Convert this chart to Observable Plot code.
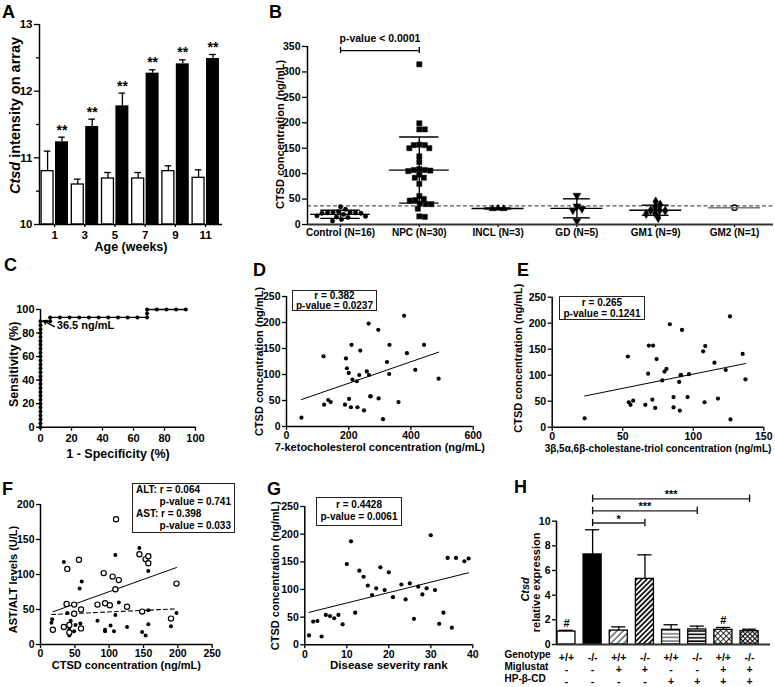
<!DOCTYPE html>
<html><head><meta charset="utf-8">
<script src="https://cdn.jsdelivr.net/npm/d3@7"></script>
<script src="https://cdn.jsdelivr.net/npm/@observablehq/plot@0.6"></script>
<style>
body{margin:0;background:#fff;}
#fig{position:relative;width:775px;height:687px;background:#fff;font-family:"Liberation Sans",Arial,Helvetica,sans-serif;font-weight:bold;color:#000;overflow:hidden}
.letter{position:absolute;font-size:18px;line-height:18px;font-weight:bold}
.stat{position:absolute;border:1.2px solid #222;box-sizing:border-box;font-size:10px;display:flex;flex-direction:column;justify-content:center;align-items:center;background:#fff;white-space:nowrap}
.stat div{width:100%}
</style></head><body><div id="fig"></div><script>
// ---------- DATA ----------
// A
const weeks = [1, 3, 5, 7, 9, 11];
const aWT = [10.8, 10.6, 10.69, 10.69, 10.8, 10.7];
const aWTerr = [0.3, 0.08, 0.09, 0.09, 0.08, 0.12];
const aKO = [11.24, 11.47, 11.78, 12.27, 12.41, 12.49];
const aKOerr = [0.07, 0.11, 0.19, 0.05, 0.06, 0.06];
// B
const bGroups = ["Control (N=16)", "NPC (N=30)", "INCL (N=3)", "GD (N=5)", "GM1 (N=9)", "GM2 (N=1)"];
const bControl = [35, 30, 25, 24, 24, 23, 23, 22, 22, 20, 17, 16, 15, 14, 10, 7];
const bNPC = [315, 199, 187, 187, 157, 156, 156, 150, 150, 134, 123, 109, 107, 107, 106, 105, 98, 92, 92, 80, 56, 50, 48, 47, 41, 40, 40, 31, 16, 15];
const bINCL = [31, 32, 31];
const bGD = [57, 36, 31, 28, 7];
const bGM1 = [45, 39, 34, 28, 28, 27, 22, 21, 13];
const bGM2 = [33];
const bMean = [20, 107, 31.5, 31.8, 28, 33];
const bSD = [8, 65, 1, 18.7, 10, 0];
const bCutoff = 36.5;
const bPText = "p-value < 0.0001";
// C
const rocFPR = [0,0,0,0,0,0,0,0,0,0,0,0,0,0,0,0,0,0,0,0,0,0,0,0,0,0,0,0,
  6.25, 6.25, 12.5, 18.75, 25, 31.25, 37.5, 43.75, 50, 56.25, 62.5, 68.75, 68.75, 68.75, 75, 81.25, 87.5, 93.75];
const rocTPR = [0,3.3,6.7,10,13.3,16.7,20,23.3,26.7,30,33.3,36.7,40,43.3,46.7,50,53.3,56.7,60,63.3,66.7,70,73.3,76.7,80,83.3,86.7,90,
  90, 93.3, 93.3, 93.3, 93.3, 93.3, 93.3, 93.3, 93.3, 93.3, 93.3, 93.3, 96.7, 100, 100, 100, 100, 100];
const rocCutText = "36.5 ng/mL";
// D
const dKeto = [48,119,121,134,142,188,191,200,201,209,207,212,194,226,234,237,228,249,258,264,265,269,271,295,296,310,323,331,330,360,378,387,414,442,489];
const dCTSD = [17,135,42,51,47,42,131,103,53,157,37,90,112,87,99,146,37,31,106,198,99,58,58,186,54,14,124,157,101,47,213,141,109,157,92];
const dStats = ["r = 0.382", "p-value = 0.0237"];
// E
const eTriol = [23,53.6,54.3,55.5,57.4,66,68,68.5,71.5,71,73,74,78,79.6,81,83.4,86,86,90,91,91.4,90.5,92,96,97,107,108,108.5,115,117.5,123,126,126.4,135,137];
const eCTSD = [17,136,48,43,51,43,103,157,157,53,37,131,90,107,112,198,38,58,87,100,100,32,187,58,102,146,48,156,124,55,110,213,15,141,92];
const eStats = ["r = 0.265", "p-value = 0.1241"];
// F
const fASTx = [18,34,39,38,56,49,49,59,59,42,42,83,92,94,101,105,109,110,114,126,144,148,153,157,157,190,198];
const fASTy = [21,25,108,58,121,57,44,50,23,28,17,57,102,59,56,97,79,179,92,54,129,47,122,126,116,37,87];
const fALTx = [17,16,34,39,42,44,42,49,51,57,60,58,83,94,94,102,107,109,109,114,126,144,148,153,157,157,157,190,198];
const fALTy = [36,31,118,45,21,34,13,19,28,80,90,30,34,19,21,27,19,128,42,60,25,138,18,13,105,49,29,26,45];
const fStats = ["ALT: r = 0.064", "p-value = 0.741", "AST: r = 0.398", "p-value = 0.033"];
// G
const gRank = [1,2,3,4,5,6,7,8,9,10,11,12,13,14,15,16,17,18,19,20,21,23,24,25,26,27,28,29,30,31,32,33,34,35,36,38,39];
const gCTSD = [17,42,43,15,54,52,48,54,37,146,187,58,134,123,107,90,102,140,99,131,86,109,82,111,47,105,91,102,198,99,38,58,157,31,157,151,156];
const gStats = ["r = 0.4428", "p-value = 0.0061"];
// H
const hGenotype = ["+/+", "-/-", "+/+", "-/-", "+/+", "-/-", "+/+", "-/-"];
const hMiglustat = ["-", "-", "+", "+", "-", "-", "+", "+"];
const hHPBCD = ["-", "-", "-", "-", "+", "+", "+", "+"];
const hMean = [1.05, 7.3, 1.13, 5.32, 1.19, 1.22, 1.19, 1.08];
const hErr = [0.1, 2.0, 0.3, 1.95, 0.41, 0.27, 0.19, 0.16];
const hSig = [{a: 1, b: 3, label: "*"}, {a: 1, b: 5, label: "***"}, {a: 1, b: 7, label: "***"}];
const hHash = [0, 6];
const hRowNames = ["Genotype", "Miglustat", "HP-β-CD"];

// ---------- HELPERS ----------
const FONT = '"Liberation Sans", Arial, Helvetica, sans-serif';
const fig = document.getElementById("fig");
const fmtInt = d3.format("d");
function mk(opts, fs) {
  return Plot.plot({...opts, style: {fontFamily: FONT, fontWeight: "bold", fontSize: fs + "px", color: "#000", background: "transparent", overflow: "visible"}});
}
function put(el, left, top) {
  el.style.position = "absolute"; el.style.left = left + "px"; el.style.top = top + "px";
  fig.appendChild(el);
}
function letter(t, left, top) {
  const d = document.createElement("div"); d.className = "letter"; d.textContent = t;
  d.style.left = left + "px"; d.style.top = top + "px"; fig.appendChild(d);
}
function statBox(lines, left, top, w, h, lh, aligns) {
  const d = document.createElement("div"); d.className = "stat";
  Object.assign(d.style, {left: left + "px", top: top + "px", width: w + "px", height: h + "px", lineHeight: lh + "px", padding: "0 3px"});
  lines.forEach((t, i) => { const l = document.createElement("div"); l.textContent = t; l.style.textAlign = aligns ? aligns[i] : "center"; d.appendChild(l); });
  fig.appendChild(d);
}
function italicPrefix(svg, full, prefix) {
  for (const t of svg.querySelectorAll("text")) {
    if (t.textContent === full) t.innerHTML = '<tspan font-style="italic">' + prefix + '</tspan>' + full.slice(prefix.length);
  }
}
// rotated y-axis title, centred on the frame's left edge
function yTitle(text, dx, dy, fs, extra) {
  return Plot.text([text], {frameAnchor: "left", textAnchor: "middle", rotate: -90, dx, dy: dy || 0, fontSize: fs, ...(extra || {})});
}
// simple beeswarm: horizontal pixel offsets avoiding overlap
function swarm(vals, pyPerUnit, pxPerUnit, diam) {
  const placed = [], out = new Array(vals.length);
  const order = vals.map((v, i) => i).sort((a, b) => vals[b] - vals[a]);
  for (const i of order) {
    const yp = vals[i] * pyPerUnit;
    let off = 0;
    for (let k = 0; k < 400; k++) {
      const c = (k % 2 ? 1 : -1) * Math.ceil(k / 2) * 0.5;
      if (placed.every(p => Math.hypot(p.x - c, p.y - yp) >= diam)) { off = c; break; }
    }
    placed.push({x: off, y: yp}); out[i] = off / pxPerUnit;
  }
  return out;
}
const axisOpts = {tickSize: 4, tickPadding: 2, strokeWidth: 1.3, label: null};

// ---------- PANEL A ----------
const aRows = weeks.map((w, i) => ({i, w, wt: aWT[i], wte: aWTerr[i], ko: aKO[i], koe: aKOerr[i]}));
const aW1 = -0.43, aW2 = -0.035, aK1 = 0.03, aK2 = 0.46;
const aWc = (aW1 + aW2) / 2, aKc = (aK1 + aK2) / 2;
const svgA = mk({
  width: 230, height: 262, marginLeft: 39, marginRight: 8, marginTop: 24, marginBottom: 38,
  x: {domain: [-0.5, 5.56]}, y: {domain: [10, 13]},
  marks: [
    Plot.ruleX(aRows, {x: d => d.i + aWc, y1: "wt", y2: d => d.wt + d.wte, strokeWidth: 1.3}),
    Plot.ruleY(aRows, {y: d => d.wt + d.wte, x1: d => d.i + aWc - 0.11, x2: d => d.i + aWc + 0.11, strokeWidth: 1.3}),
    Plot.ruleX(aRows, {x: d => d.i + aKc, y1: "ko", y2: d => d.ko + d.koe, strokeWidth: 1.3}),
    Plot.ruleY(aRows, {y: d => d.ko + d.koe, x1: d => d.i + aKc - 0.11, x2: d => d.i + aKc + 0.11, strokeWidth: 1.3}),
    Plot.rect(aRows, {x1: d => d.i + aW1, x2: d => d.i + aW2, y1: 10, y2: "wt", fill: "#fff", stroke: "#000", strokeWidth: 1.3}),
    Plot.rect(aRows, {x1: d => d.i + aK1, x2: d => d.i + aK2, y1: 10, y2: "ko", fill: "#000"}),
    Plot.text(aRows, {x: d => d.i + aKc, y: d => d.ko + d.koe, text: () => "**", dy: -7, fontSize: 14}),
    Plot.axisY({...axisOpts, ticks: [10, 11, 12, 13], tickSize: 5, tickFormat: fmtInt}),
    Plot.axisY({...axisOpts, ticks: [10.5, 11.5, 12.5], tickSize: 3, tickFormat: () => ""}),
    Plot.axisX({...axisOpts, ticks: aRows.map(d => d.i), tickFormat: i => weeks[i], tickSize: 3, tickPadding: 3}),
    Plot.ruleX([-0.5], {strokeWidth: 1.5}),
    Plot.ruleY([10], {strokeWidth: 1.5}),
    Plot.text(["Age (weeks)"], {frameAnchor: "bottom", dy: 26, fontSize: 12.5}),
    yTitle("Ctsd intensity on array", -24, -9, 14.5)
  ]
}, 11.5);
italicPrefix(svgA, "Ctsd intensity on array", "Ctsd");
put(svgA, 0, 0);

// ---------- PANEL B ----------
const bLists = [bControl, bNPC, bINCL, bGD, bGM1, bGM2];
const bSym = ["circle", "square", "triangle", "triangle", "diamond", "circle"];
const bRot = [0, 0, 0, 180, 0, 0];
const bR = [2.2, 2.9, 2.6, 2.9, 2.9, 2.7];
const bDom = [-0.419, 5.495];
const bPx = (773 - 307) / (bDom[1] - bDom[0]), bPy = (224 - 46) / 350;
const bPts = bLists.map((vals, g) => { const off = swarm(vals, bPy, bPx, 5.4); return vals.map((v, j) => ({g, v, x: g + off[j]})); });
const bSum = bGroups.map((n, g) => ({g, m: bMean[g], s: bSD[g]}));
const bMeanHalf = g => (g < 2 ? 0.38 : 0.33), bCapHalf = g => (g < 2 ? 0.25 : 0.17);
const bBr = {a: 0, b: 1, y: 342};
const svgB = mk({
  width: 545, height: 245, marginLeft: 77, marginRight: 2, marginTop: 46, marginBottom: 21,
  x: {domain: bDom}, y: {domain: [0, 350]},
  marks: [
    Plot.ruleY([bCutoff], {stroke: "#555", strokeDasharray: "4,2.5", strokeWidth: 1.3}),
    ...bPts.map((pts, g) => Plot.dot(pts, {x: "x", y: "v", symbol: bSym[g], rotate: bRot[g], r: bR[g],
      fill: g === 5 ? "#fff" : "#000", stroke: "#000", strokeWidth: g === 5 ? 1.3 : 0.5})),
    Plot.ruleX(bSum.filter(d => d.s > 0), {x: "g", y1: d => d.m - d.s, y2: d => d.m + d.s, strokeWidth: 1.4}),
    Plot.ruleY(bSum.filter(d => d.s > 0), {y: d => d.m + d.s, x1: d => d.g - bCapHalf(d.g), x2: d => d.g + bCapHalf(d.g), strokeWidth: 1.4}),
    Plot.ruleY(bSum.filter(d => d.s > 0), {y: d => d.m - d.s, x1: d => d.g - bCapHalf(d.g), x2: d => d.g + bCapHalf(d.g), strokeWidth: 1.4}),
    Plot.ruleY(bSum, {y: "m", x1: d => d.g - bMeanHalf(d.g), x2: d => d.g + bMeanHalf(d.g), strokeWidth: 1.4, stroke: d => (d.g === 5 ? "#777" : "#000")}),
    Plot.ruleY([bBr], {y: "y", x1: "a", x2: "b", strokeWidth: 1.3}),
    Plot.ruleX([bBr.a, bBr.b], {y1: bBr.y - 6, y2: bBr.y + 6, strokeWidth: 1.3}),
    Plot.text([bPText], {x: (bBr.a + bBr.b) / 2, y: bBr.y, dy: -12, fontSize: 10.5}),
    Plot.axisY({...axisOpts, ticks: d3.range(0, 351, 50), tickSize: 5, tickFormat: fmtInt}),
    Plot.axisX({...axisOpts, ticks: bGroups.map((n, g) => g), tickFormat: g => bGroups[g], tickSize: 3, tickPadding: 1, fontSize: 10}),
    Plot.ruleX([bDom[0]], {strokeWidth: 1.5}),
    Plot.ruleY([0], {strokeWidth: 1.8, stroke: "#333"}),
    yTitle("CTSD concentration (ng/mL)", -27, -1, 11)
  ]
}, 10.5);
put(svgB, 230, 0);

// ---------- PANEL C ----------
const rocRows = rocFPR.map((x, i) => ({x, y: rocTPR[i]}));
const svgC = mk({
  width: 230, height: 210, marginLeft: 40, marginRight: 35, marginTop: 59, marginBottom: 33.3,
  x: {domain: [0, 100]}, y: {domain: [0, 100]},
  marks: [
    Plot.axisY({...axisOpts, ticks: [0, 20, 40, 60, 80, 100], tickFormat: fmtInt}),
    Plot.axisX({...axisOpts, ticks: [0, 20, 40, 60, 80, 100], tickPadding: 3, tickFormat: fmtInt}),
    Plot.ruleX([0], {strokeWidth: 1.5}),
    Plot.ruleY([0], {strokeWidth: 1.5}),
    Plot.line(rocRows, {x: "x", y: "y", strokeWidth: 1.3}),
    Plot.dot(rocRows, {x: "x", y: "y", r: 2, fill: "#000"}),
    Plot.arrow([0], {x1: 9, y1: 85.5, x2: 1.8, y2: 90.5, headLength: 6, strokeWidth: 1.3}),
    Plot.text([rocCutText], {x: 10.5, y: 86.5, textAnchor: "start", fontSize: 11}),
    Plot.text(["1 - Specificity (%)"], {frameAnchor: "bottom", dy: 31, fontSize: 12.5}),
    yTitle("Sensitivity (%)", -27, -4, 12.5)
  ]
}, 11);
put(svgC, 0, 250);

// ---------- scatter helper (D, E, G) ----------
function scatter(xs, ys, cfg) {
  const rows = xs.map((x, i) => ({x, y: ys[i]}));
  return mk({
    width: cfg.w, height: cfg.h, marginLeft: cfg.ml, marginRight: cfg.mr, marginTop: cfg.mt, marginBottom: cfg.mb,
    x: {domain: cfg.xd}, y: {domain: cfg.yd},
    marks: [
      Plot.axisY({...axisOpts, ticks: cfg.yt, tickFormat: fmtInt}),
      Plot.axisX({...axisOpts, ticks: cfg.xt, tickPadding: 1.5, tickFormat: fmtInt}),
      Plot.ruleX([cfg.xd[0]], {strokeWidth: 1.5}),
      Plot.ruleY([cfg.yd[0]], {strokeWidth: 1.5}),
      Plot.linearRegressionY(rows, {x: "x", y: "y", ci: 0, stroke: "#000", strokeWidth: 1}),
      Plot.dot(rows, {x: "x", y: "y", r: 2.1, fill: "#000"}),
      Plot.text([cfg.xl], {frameAnchor: "bottom", dy: cfg.xdy, fontSize: cfg.xfs || 11}),
      yTitle(cfg.yl, cfg.ydx, cfg.ydy || 0, 11)
    ]
  }, 10.5);
}
// D
const svgD = scatter(dKeto, dCTSD, {w: 270, h: 210, ml: 56, mr: 27.3, mt: 46, mb: 34, xd: [0, 600], yd: [0, 250],
  xt: [0, 200, 400, 600], yt: [0, 50, 100, 150, 200, 250], xl: "7-ketocholesterol concentration (ng/mL)", xdy: 24.5,
  yl: "CTSD concentration (ng/mL)", ydx: -27});
put(svgD, 230, 250);
// E
const svgE = scatter(eTriol, eCTSD, {w: 275, h: 210, ml: 51.7, mr: 11.7, mt: 46.7, mb: 33.3, xd: [0, 150], yd: [0, 250],
  xt: [0, 50, 100, 150], yt: [0, 50, 100, 150, 200, 250], xl: "3β,5α,6β-cholestane-triol concentration (ng/mL)", xdy: 25, xfs: 10,
  yl: "CTSD concentration (ng/mL)", ydx: -34, ydy: -4});
put(svgE, 500, 250);
// G
const svgG = scatter(gRank, gCTSD, {w: 260, h: 227, ml: 54.3, mr: 37.7, mt: 46, mb: 42.7, xd: [0, 40], yd: [0, 250],
  xt: [0, 10, 20, 30, 40], yt: [0, 50, 100, 150, 200, 250], xl: "Disease severity rank", xdy: 24, xfs: 11.5,
  yl: "CTSD concentration (ng/mL)", ydx: -29});
put(svgG, 250, 460);

// ---------- PANEL F ----------
const fAST = fASTx.map((x, i) => ({x, y: fASTy[i]}));
const fALT = fALTx.map((x, i) => ({x, y: fALTy[i]}));
const svgF = mk({
  width: 250, height: 227, marginLeft: 40, marginRight: 38.3, marginTop: 44, marginBottom: 43,
  x: {domain: [0, 250]}, y: {domain: [0, 200]},
  marks: [
    Plot.axisY({...axisOpts, ticks: [0, 50, 100, 150, 200], tickFormat: fmtInt}),
    Plot.axisX({...axisOpts, ticks: [0, 50, 100, 150, 200, 250], tickPadding: 1.5, tickFormat: fmtInt}),
    Plot.ruleX([0], {strokeWidth: 1.5}),
    Plot.ruleY([0], {strokeWidth: 1.5}),
    Plot.linearRegressionY(fAST, {x: "x", y: "y", ci: 0, stroke: "#000", strokeWidth: 1}),
    Plot.linearRegressionY(fALT, {x: "x", y: "y", ci: 0, stroke: "#000", strokeWidth: 1.1, strokeDasharray: "4,3"}),
    Plot.dot(fALT, {x: "x", y: "y", r: 2, fill: "#000"}),
    Plot.dot(fAST, {x: "x", y: "y", r: 2.6, fill: "#fff", stroke: "#000", strokeWidth: 1.2}),
    Plot.text(["CTSD concentration (ng/mL)"], {frameAnchor: "bottom", dy: 24.5, fontSize: 11}),
    yTitle("AST/ALT levels (U/L)", -27, 5, 11)
  ]
}, 10.5);
put(svgF, 0, 460);

// ---------- PANEL H ----------
const hRows = hMean.map((m, i) => ({i, m, e: hErr[i], g: hGenotype[i], mig: hMiglustat[i], hp: hHPBCD[i]}));
function hFill(d) {
  const ko = d.g === "-/-", mig = d.mig === "+", hp = d.hp === "+";
  if (!mig && !hp) return ko ? "#000" : "#fff";
  if (mig && !hp) return ko ? "url(#hDiagB)" : "url(#hDiagA)";
  if (!mig && hp) return ko ? "url(#hHorB)" : "url(#hHorA)";
  return ko ? "url(#hCrossB)" : "url(#hCrossA)";
}
const hSigRows = hSig.map((s, k) => ({...s, y: 9.85 + k * 0.98}));
const hDom = [-0.38, 7.8];
const hRowDy = [13.5, 25.5, 37.5];
const hRowCols = ["g", "mig", "hp"];
const svgH = mk({
  width: 275, height: 227, marginLeft: 56, marginRight: 5, marginTop: 29.8, marginBottom: 43,
  x: {domain: hDom, axis: null}, y: {domain: [0, 12.5]},
  marks: [
    Plot.ruleX(hRows, {x: "i", y1: "m", y2: d => d.m + d.e, strokeWidth: 1.3}),
    Plot.ruleY(hRows, {y: d => d.m + d.e, x1: d => d.i - 0.27, x2: d => d.i + 0.27, strokeWidth: 1.3}),
    ...hRows.map(d => Plot.rect([d], {x1: d => d.i - 0.345, x2: d => d.i + 0.345, y1: 0, y2: "m", fill: hFill(d), stroke: "#000", strokeWidth: 1.3})),
    Plot.text(hRows.filter(d => hHash.includes(d.i)), {x: "i", y: d => d.m + d.e, text: () => "#", dy: -7, fontSize: 11}),
    Plot.ruleY(hSigRows, {y: "y", x1: "a", x2: "b", strokeWidth: 1.3, stroke: "#222"}),
    Plot.ruleX(hSigRows.flatMap(s => [{x: s.a, y: s.y}, {x: s.b, y: s.y}]), {x: "x", y1: d => d.y - 0.3, y2: d => d.y + 0.3, strokeWidth: 1.3}),
    Plot.text(hSigRows, {x: d => (d.a + d.b) / 2, y: "y", text: "label", dy: -4, fontSize: 11}),
    Plot.axisY({...axisOpts, ticks: [0, 2, 4, 6, 8, 10], tickFormat: fmtInt}),
    Plot.ruleX([hDom[0]], {y1: 0, y2: 10, strokeWidth: 1.5}),
    Plot.ruleY([0], {strokeWidth: 1.8, stroke: "#333"}),
    ...hRowCols.map((c, r) => Plot.text(hRows, {x: "i", y: 0, text: c, dy: hRowDy[r], fontSize: 10.5})),
    ...hRowNames.map((n, r) => Plot.text([n], {frameAnchor: "bottom-left", dx: -52, dy: hRowDy[r], textAnchor: "start", fontSize: 10})),
    yTitle("Ctsd", -31, 22, 11, {fontStyle: "italic"}),
    yTitle("relative expression", -20, 15, 11)
  ]
}, 10.5);
const defs = document.createElementNS("http://www.w3.org/2000/svg", "defs");
defs.innerHTML = `
<pattern id="hDiagA" width="4.5" height="4.5" patternUnits="userSpaceOnUse" patternTransform="rotate(45)"><rect width="4.5" height="4.5" fill="#fff"/><line x1="1" y1="0" x2="1" y2="4.5" stroke="#000" stroke-width="0.9"/></pattern>
<pattern id="hDiagB" width="3.6" height="3.6" patternUnits="userSpaceOnUse" patternTransform="rotate(45)"><rect width="3.6" height="3.6" fill="#fff"/><line x1="1" y1="0" x2="1" y2="3.6" stroke="#000" stroke-width="1.7"/></pattern>
<pattern id="hHorA" width="4" height="3.6" patternUnits="userSpaceOnUse"><rect width="4" height="3.6" fill="#fff"/><line x1="0" y1="1" x2="4" y2="1" stroke="#000" stroke-width="0.9"/></pattern>
<pattern id="hHorB" width="4" height="3.4" patternUnits="userSpaceOnUse"><rect width="4" height="3.4" fill="#fff"/><line x1="0" y1="1" x2="4" y2="1" stroke="#000" stroke-width="1.6"/></pattern>
<pattern id="hCrossA" width="4" height="4" patternUnits="userSpaceOnUse" patternTransform="rotate(45)"><rect width="4" height="4" fill="#fff"/><path d="M0.5 0V4M0 0.5H4" stroke="#000" stroke-width="0.8"/></pattern>
<pattern id="hCrossB" width="3.4" height="3.4" patternUnits="userSpaceOnUse" patternTransform="rotate(45)"><rect width="3.4" height="3.4" fill="#fff"/><path d="M0.5 0V3.4M0 0.5H3.4" stroke="#000" stroke-width="1.1"/></pattern>`;
svgH.insertBefore(defs, svgH.firstChild);
put(svgH, 500, 460);

// ---------- stat boxes ----------
statBox(dStats, 292, 290, 85, 21, 10);
statBox(eStats, 559, 296, 86, 24, 11);
statBox(gStats, 316, 497, 86, 28.5, 12);
statBox(fStats, 132, 483, 103, 50, 12, ["left", "right", "left", "right"]);

// ---------- panel letters ----------
letter("A", 2, 3);
letter("B", 269, 3);
letter("C", 4, 256);
letter("D", 253, 261);
letter("E", 517, 261);
letter("F", 2, 480);
letter("G", 267, 480);
letter("H", 514, 478);
</script></body></html>
